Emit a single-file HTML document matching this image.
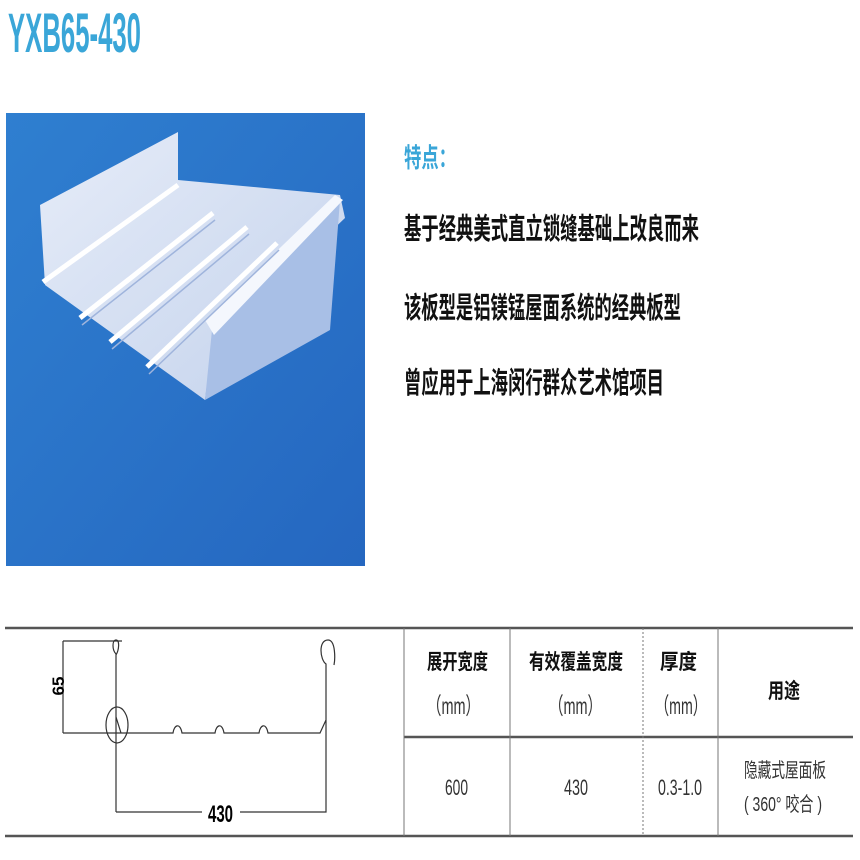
<!DOCTYPE html>
<html><head><meta charset="utf-8"><style>
body{margin:0;width:860px;height:860px;background:#fff;position:relative;overflow:hidden}
text{font-family:"Liberation Sans","Noto Sans CJK SC",sans-serif}
</style></head><body>
<svg style="position:absolute;left:0;top:0" width="860" height="860">
<defs><linearGradient id="bg" x1="0" y1="0" x2="1" y2="1"><stop offset="0" stop-color="#2f7fd0"/><stop offset="1" stop-color="#2567c0"/></linearGradient>
<linearGradient id="sh" x1="0" y1="0" x2="1" y2="1"><stop offset="0" stop-color="#e6ecf8"/><stop offset="1" stop-color="#c3d2ec"/></linearGradient></defs>
<text transform="translate(8 52) scale(1 1.4)" font-size="40" font-weight="bold" fill="#3aa6d8" textLength="133" lengthAdjust="spacingAndGlyphs">YXB65-430</text>
<rect x="6" y="113" width="359" height="453" fill="url(#bg)"/>
<polygon points="40,205 178,132 178,180 340,195 345,218 212,345 205,400 45,285" fill="url(#sh)"/>
<polygon points="212,330 340,200 330,330 205,400" fill="#a8bfe6"/>
<polygon points="205,320 335,195 343,200 214,335" fill="#f4f7fd"/>
<g stroke="#ffffff" stroke-width="5" fill="none">
<line x1="43" y1="282" x2="178" y2="185"/>
<line x1="80" y1="318" x2="213" y2="213"/>
<line x1="110" y1="342" x2="247" y2="227"/>
<line x1="147" y1="367" x2="277" y2="243"/>
</g>
<g stroke="#9fb4dc" stroke-width="1.5" fill="none">
<line x1="82" y1="325" x2="215" y2="220"/>
<line x1="112" y1="349" x2="249" y2="234"/>
<line x1="149" y1="374" x2="279" y2="250"/>
</g>
<g font-weight="bold">
<text transform="translate(404 167) scale(1 1.35)" font-size="20" fill="#3aa6d8" textLength="52" lengthAdjust="spacingAndGlyphs">特点：</text>
<text transform="translate(404 239) scale(1 1.4)" font-size="21" fill="#111" textLength="295" lengthAdjust="spacingAndGlyphs">基于经典美式直立锁缝基础上改良而来</text>
<text transform="translate(404 318) scale(1 1.4)" font-size="21" fill="#111" textLength="277" lengthAdjust="spacingAndGlyphs">该板型是铝镁锰屋面系统的经典板型</text>
<text transform="translate(404 393) scale(1 1.4)" font-size="21" fill="#111" textLength="260" lengthAdjust="spacingAndGlyphs">曾应用于上海闵行群众艺术馆项目</text>
</g>
<g stroke="#555" stroke-width="2.5"><line x1="5" y1="628" x2="853" y2="628"/><line x1="5" y1="836" x2="853" y2="836"/><line x1="404" y1="737" x2="853" y2="737"/></g>
<g stroke="#777" stroke-width="1"><line x1="404" y1="628" x2="404" y2="836"/><line x1="510" y1="628" x2="510" y2="836"/><line x1="643" y1="628" x2="643" y2="836" stroke-dasharray="2,2"/><line x1="718" y1="628" x2="718" y2="836"/></g>
<g stroke="#333" stroke-width="1.2" fill="none">
<line x1="63" y1="641" x2="122" y2="641"/><line x1="63" y1="641" x2="63" y2="733"/>
<path d="M116,812 V654 C112,650 112,640 116,640 C120,640 119,650 116,655"/>
<path d="M63,733 H173 C174,725 180,722 182,733 H215 C216,725 222,722 224,733 H259 C260,725 266,722 268,733 H320 L326,720 V664 C320,660 318,640 328,640 C336,640 335,660 334,665"/>
<path d="M116,717 L121,733"/>
<ellipse cx="117" cy="725" rx="11" ry="18"/>
<path d="M116,812 H202 M240,812 H326 V720"/>
</g>
<text transform="translate(208 822) scale(1 1.2)" font-size="20" font-weight="bold" textLength="25" lengthAdjust="spacingAndGlyphs">430</text>
<text transform="translate(64 686) rotate(-90)" font-size="17" font-weight="bold" text-anchor="middle">65</text>
<g font-weight="bold" fill="#111">
<text transform="translate(427 669) scale(1 1.25)" font-size="17" textLength="61" lengthAdjust="spacingAndGlyphs">展开宽度</text>
<text transform="translate(529 669) scale(1 1.25)" font-size="17" textLength="94" lengthAdjust="spacingAndGlyphs">有效覆盖宽度</text>
<text transform="translate(660 669) scale(1 1.25)" font-size="17" textLength="37" lengthAdjust="spacingAndGlyphs">厚度</text>
<text transform="translate(768 698) scale(1 1.25)" font-size="17" textLength="32" lengthAdjust="spacingAndGlyphs">用途</text>
</g>
<g fill="#333">
<text transform="translate(427 714) scale(1 1.3)" font-size="18" textLength="53" lengthAdjust="spacingAndGlyphs">（mm）</text>
<text transform="translate(549 714) scale(1 1.3)" font-size="18" textLength="53" lengthAdjust="spacingAndGlyphs">（mm）</text>
<text transform="translate(655 714) scale(1 1.3)" font-size="18" textLength="52" lengthAdjust="spacingAndGlyphs">（mm）</text>
<text transform="translate(445 795) scale(1 1.3)" font-size="17" textLength="23" lengthAdjust="spacingAndGlyphs">600</text>
<text transform="translate(564 795) scale(1 1.3)" font-size="17" textLength="24" lengthAdjust="spacingAndGlyphs">430</text>
<text transform="translate(658 795) scale(1 1.3)" font-size="17" textLength="44" lengthAdjust="spacingAndGlyphs">0.3-1.0</text>
<text transform="translate(744 777) scale(1 1.25)" font-size="16" textLength="82" lengthAdjust="spacingAndGlyphs">隐藏式屋面板</text>
<text transform="translate(744 811) scale(1 1.25)" font-size="16" textLength="78" lengthAdjust="spacingAndGlyphs">( 360°  咬合 )</text>
</g>
</svg>
</body></html>
